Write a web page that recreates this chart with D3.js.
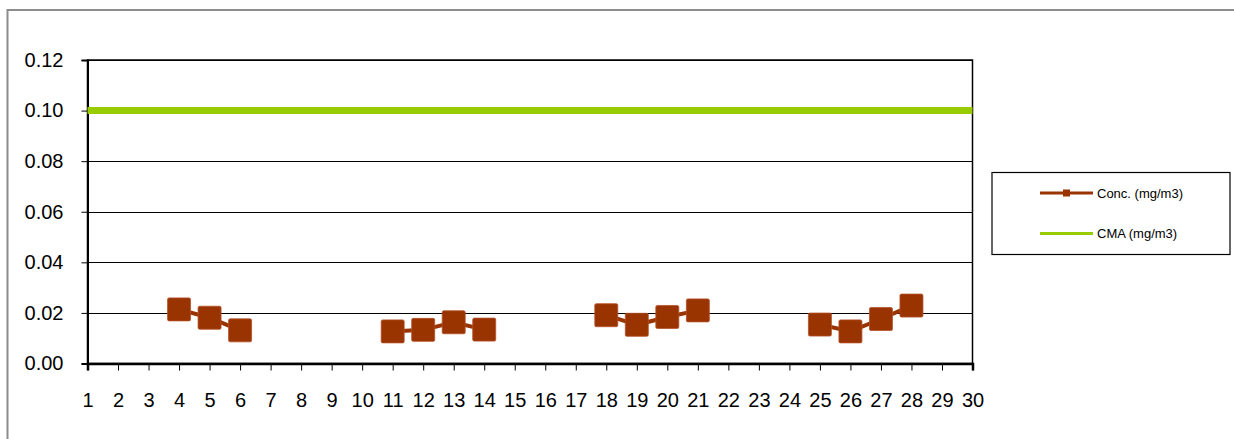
<!DOCTYPE html>
<html><head><meta charset="utf-8">
<script src="https://cdn.jsdelivr.net/npm/d3@7"></script>
<style>
html,body{margin:0;padding:0;background:#fff;}
svg{display:block;font-family:"Liberation Sans",Arial,sans-serif;}
</style></head>
<body>
<svg id="chart" width="1234" height="439"></svg>
<script>
const categories = d3.range(1, 31).map(String);
const concValues = [null,null,null,0.0214,0.0181,0.0131,null,null,null,null,0.0127,0.0133,0.0163,0.0134,null,null,null,0.0191,0.0153,0.0184,0.0210,null,null,null,0.0154,0.0127,0.0176,0.0229,null,null];
const cmaValues = categories.map(() => 0.10);
const yTicks = [0, 0.02, 0.04, 0.06, 0.08, 0.10, 0.12];
const seriesNames = ["Conc. (mg/m3)", "CMA (mg/m3)"];
const colors = {conc: "#993300", cma: "#99CC00"};

const svg = d3.select("#chart");
// outer frame
svg.append("rect").attr("x", 7.5).attr("y", 10).attr("width", 1240).attr("height", 440)
  .attr("fill", "#fff").attr("stroke", "#8c8c8c").attr("stroke-width", 2);

const L = 87.5, R = 972.5, T = 60, B = 363.5;
const x = d3.scalePoint().domain(categories).range([L, R]);
const y = d3.scaleLinear().domain([0, 0.12]).range([B, T]);

// gridlines
svg.append("g").selectAll("line").data(yTicks.slice(1)).join("line")
  .attr("x1", L).attr("x2", R)
  .attr("y1", d => Math.round(y(d)) + 0.5).attr("y2", d => Math.round(y(d)) + 0.5)
  .attr("stroke", "#000").attr("stroke-width", 1);

// plot border
svg.append("rect").attr("x", L).attr("y", T).attr("width", R - L).attr("height", B - T)
  .attr("fill", "none").attr("stroke", "#000").attr("stroke-width", 1.5);

// y axis
const yAxis = svg.append("g").attr("transform", `translate(${L},0)`)
  .call(d3.axisLeft(y).tickValues(yTicks).tickFormat(d3.format(".2f")).tickSize(6).tickPadding(18));
yAxis.select(".domain").attr("stroke", "#000").attr("stroke-width", 2);
yAxis.selectAll(".tick line").attr("stroke", "#000");
yAxis.selectAll("text").attr("font-size", 20).attr("fill", "#000")
  .attr("font-family", "Liberation Sans, Arial, sans-serif");

// x axis
const xAxis = svg.append("g").attr("transform", `translate(0,${B})`)
  .call(d3.axisBottom(x).tickSize(7).tickPadding(22));
xAxis.select(".domain").attr("stroke", "#000").attr("stroke-width", 2.5);
xAxis.selectAll(".tick line").attr("stroke", "#000");
xAxis.selectAll("text").attr("font-size", 20).attr("fill", "#000")
  .attr("font-family", "Liberation Sans, Arial, sans-serif");

// CMA line
const cmaLine = d3.line().x((d, i) => x(categories[i])).y(d => y(d));
svg.append("path").datum(cmaValues).attr("d", cmaLine)
  .attr("fill", "none").attr("stroke", colors.cma).attr("stroke-width", 7);

// Conc line
const concLine = d3.line().defined(d => d != null).x((d, i) => x(categories[i])).y(d => y(d));
svg.append("path").datum(concValues).attr("d", concLine)
  .attr("fill", "none").attr("stroke", colors.conc).attr("stroke-width", 4);

const ms = 23;
svg.append("g").selectAll("rect")
  .data(concValues.map((v, i) => ({v, c: categories[i]})).filter(d => d.v != null))
  .join("rect")
  .attr("x", d => x(d.c) - ms / 2).attr("y", d => y(d.v) - ms / 2)
  .attr("width", ms).attr("height", ms).attr("rx", 1.5)
  .attr("fill", colors.conc).attr("stroke", "#b5522a").attr("stroke-width", 0.8);

// legend
const lg = svg.append("g");
lg.append("rect").attr("x", 992).attr("y", 172.5).attr("width", 238).attr("height", 82)
  .attr("fill", "#fff").attr("stroke", "#000").attr("stroke-width", 1.2);
const items = [
  {name: seriesNames[0], color: colors.conc, y: 193, marker: true},
  {name: seriesNames[1], color: colors.cma, y: 233.5, marker: false}
];
items.forEach(it => {
  lg.append("line").attr("x1", 1040).attr("x2", 1093).attr("y1", it.y).attr("y2", it.y)
    .attr("stroke", it.color).attr("stroke-width", 2.8);
  if (it.marker) lg.append("rect").attr("x", 1066.5 - 3.5).attr("y", it.y - 3.5)
    .attr("width", 7).attr("height", 7).attr("fill", it.color);
  lg.append("text").attr("x", 1097).attr("y", it.y).attr("dy", "0.35em")
    .attr("font-size", 13).attr("fill", "#000").text(it.name);
});
</script>
</body></html>
